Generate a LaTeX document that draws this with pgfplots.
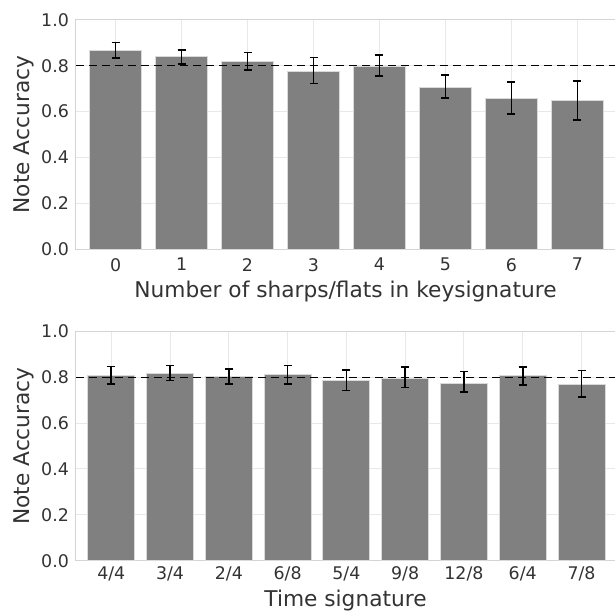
\documentclass[border=0pt]{standalone}
\usepackage{fontspec}
\setmainfont{DejaVu Sans}
\usepackage{pgfplots}
\pgfplotsset{compat=1.18}
\usepackage{pgfplotstable}
\definecolor{txt}{HTML}{333333}
\definecolor{barc}{HTML}{808080}
\definecolor{gridc}{HTML}{E8E8E8}
\definecolor{framec}{HTML}{D4D4D4}
\definecolor{edgec}{HTML}{DADADA}

\pgfplotstableread{
x y c e
0 0.866 0.868 0.033
1 0.840 0.838 0.030
2 0.817 0.820 0.038
3 0.776 0.780 0.057
4 0.796 0.801 0.046
5 0.706 0.710 0.050
6 0.657 0.660 0.070
7 0.647 0.649 0.085
}\keydata

\pgfplotstableread{
x y c e
0 0.806 0.809 0.038
1 0.816 0.818 0.033
2 0.801 0.803 0.033
3 0.810 0.811 0.040
4 0.784 0.787 0.044
5 0.796 0.800 0.045
6 0.774 0.780 0.045
7 0.807 0.806 0.039
8 0.770 0.771 0.058
}\timedata

\pgfplotsset{mystyle/.style={
  width=269.5pt, height=114.7pt, scale only axis,
  ymin=0, ymax=1, ytick={0,0.2,0.4,0.6,0.8,1.0},
  xmin=-0.6,
  grid=major, major grid style={gridc, line width=0.5pt},
  axis line style={framec, line width=0.5pt},
  major tick length=0pt,
  /pgf/number format/assume math mode=true,
  tick label style={font=\fontsize{8.7}{10}\selectfont, text=txt},
  yticklabel style={anchor=east, inner sep=0pt, xshift=-3.35pt,
     /pgf/number format/fixed, /pgf/number format/fixed zerofill, /pgf/number format/precision=1},
  every axis x label/.style={at={(axis description cs:0.5,0)}, anchor=north, inner sep=0pt, yshift=-15.6pt, font=\fontsize{10.85}{13}\selectfont, text=txt},
  every axis y label/.style={at={(axis description cs:0,0.5)}, xshift=-20.75pt, rotate=90, anchor=south, inner sep=0pt, font=\fontsize{10.85}{13}\selectfont, text=txt},
  ylabel={Note Accuracy},
  errstyle/.style={draw=none, mark=none, error bars/.cd, y dir=both, y explicit,
    error bar style={draw=black, line width=0.85pt, solid},
    error mark options={draw=black, line width=0.75pt, mark size=2pt, rotate=90}},
}}

\begin{document}
\begin{tikzpicture}
\useasboundingbox (-38pt,-180.85pt) rectangle (269.5pt,124.65pt);
\begin{axis}[mystyle, at={(0,0)}, anchor=south west, xmax=7.57,
  xtick={0,1,2,3,4,5,6,7}, xticklabels={0,1,2,3,4,5,6,7},
  xticklabel style={anchor=north, inner sep=0pt, yshift=-4.3pt},
  xlabel={Number of sharps/flats in keysignature}]
\addplot[ybar, bar width=0.8, fill=barc, draw=edgec, line width=0.5pt] table[x=x,y=y]{\keydata};
\addplot[black, dash pattern=on 4pt off 2.5pt, line width=0.6pt] coordinates {(-0.6,0.8) (7.57,0.8)};
\addplot[errstyle] table[x=x,y=c,y error=e]{\keydata};
\end{axis}
\begin{axis}[mystyle, at={(0,-155.7pt)}, anchor=south west, xmax=8.57,
  xtick={0,1,2,3,4,5,6,7,8}, xticklabels={4/4,3/4,2/4,6/8,5/4,9/8,12/8,6/4,7/8},
  xticklabel style={anchor=north, inner sep=0pt, yshift=-2.8pt},
  every axis x label/.append style={yshift=1.3pt},
  xlabel={Time signature}]
\addplot[ybar, bar width=0.8, fill=barc, draw=edgec, line width=0.5pt] table[x=x,y=y]{\timedata};
\addplot[black, dash pattern=on 4pt off 2.5pt, line width=0.6pt] coordinates {(-0.6,0.8) (8.57,0.8)};
\addplot[errstyle] table[x=x,y=c,y error=e]{\timedata};
\end{axis}
\end{tikzpicture}
\end{document}
